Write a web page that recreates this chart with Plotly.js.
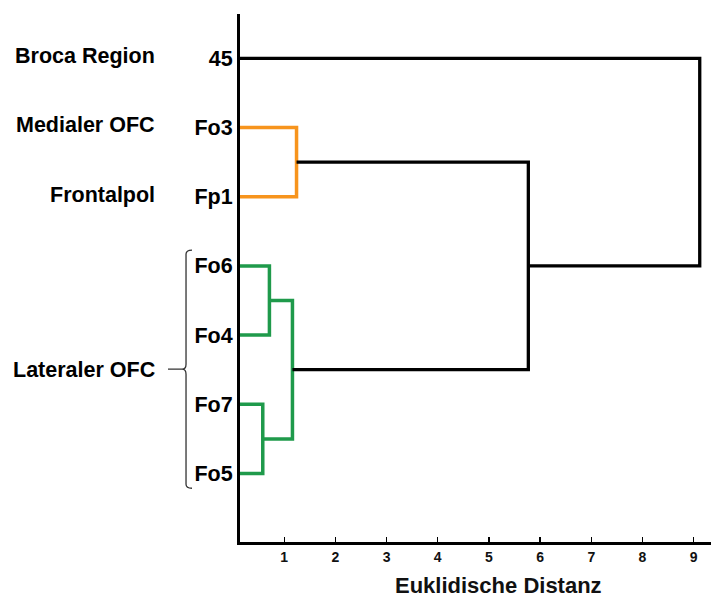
<!DOCTYPE html>
<html>
<head>
<meta charset="utf-8">
<script src="https://cdn.plot.ly/plotly-3.0.1.min.js"></script>
<style>html,body{margin:0;padding:0;background:#fff;}#chart{width:711px;height:599px;}</style>
</head>
<body>
<div id="chart"></div>
<script>
// Leaves (top to bottom) and their region group labels
const leaves = ['45', 'Fo3', 'Fp1', 'Fo6', 'Fo4', 'Fo7', 'Fo5'];
const groupLabels = ['Broca Region', 'Medialer OFC', 'Frontalpol', 'Lateraler OFC'];
const groupLeafSpan = [['45', '45'], ['Fo3', 'Fo3'], ['Fp1', 'Fp1'], ['Fo6', 'Fo5']];

// Linkage: [left child, right child, merge distance, cluster colour]
const mergeLeft   = ['Fo6', 'Fo7', 'n0', 'Fo3', 'n3', '45'];
const mergeRight  = ['Fo4', 'Fo5', 'n1', 'Fp1', 'n2', 'n4'];
const mergeHeight = [0.71, 0.58, 1.16, 1.24, 5.77, 9.12];
const mergeColor  = ['#1f9a4b', '#1f9a4b', '#1f9a4b', '#f7941d', '#000000', '#000000'];
const xTicks = [1, 2, 3, 4, 5, 6, 7, 8, 9];
const xTitle = 'Euklidische Distanz';

// Build dendrogram segments
const pos = {}, hgt = {};
leaves.forEach((l, i) => { pos[l] = i; hgt[l] = 0; });
const traces = [];
mergeLeft.forEach((a, k) => {
  const b = mergeRight[k], h = mergeHeight[k], c = mergeColor[k];
  const id = 'n' + k;
  pos[id] = (pos[a] + pos[b]) / 2; hgt[id] = h;
  traces.push({
    type: 'scatter', mode: 'lines', hoverinfo: 'skip', showlegend: false,
    x: [hgt[a], h, h, hgt[b]], y: [pos[a], pos[a], pos[b], pos[b]],
    line: {color: c, width: c === '#000000' ? 3.3 : 3.5, shape: 'linear'}
  });
});

const F = 'Liberation Sans, Arial, sans-serif';
const annotations = groupLabels.map((g, i) => ({
  text: g, xref: 'paper', yref: 'y', x: -0.1762,
  y: (pos[groupLeafSpan[i][0]] + pos[groupLeafSpan[i][1]]) / 2 - (i < 3 ? 0.03 : 0),
  xanchor: 'right', yanchor: 'middle', showarrow: false,
  font: {family: F, size: 21.5, color: '#000', weight: 'bold'}
}));
annotations.push({
  text: xTitle, xref: 'paper', yref: 'paper', x: 0.549, y: -0.082,
  xanchor: 'center', yanchor: 'middle', showarrow: false,
  font: {family: F, size: 22, color: '#111', weight: 'bold'}
});

const layout = {
  width: 711, height: 599,
  margin: {l: 240, r: 0, t: 14, b: 57},
  paper_bgcolor: '#fff', plot_bgcolor: '#fff',
  showlegend: false,
  xaxis: {
    range: [0.135, 9.34], showgrid: false, zeroline: false,
    showline: true, linewidth: 3, linecolor: '#000',
    tickvals: xTicks, ticks: 'inside', ticklen: 5, tickwidth: 1.2, tickcolor: '#000',
    tickfont: {family: F, size: 14, color: '#111', weight: 'bold'}
  },
  yaxis: {
    range: [6.99, -0.64], showgrid: false, zeroline: false,
    showline: true, linewidth: 3, linecolor: '#000',
    tickvals: leaves.map((l, i) => i), ticktext: leaves, ticks: '',
    tickfont: {family: F, size: 21.5, color: '#000', weight: 'bold'}
  },
  annotations: annotations,
  shapes: [{
    type: 'path', xref: 'paper', yref: 'y',
    path: 'M -0.1019,2.771 Q -0.1146,2.771 -0.1146,2.829 L -0.1146,4.42 Q -0.1146,4.492 -0.1231,4.492 L -0.1529,4.492 M -0.1231,4.492 Q -0.1146,4.492 -0.1146,4.565 L -0.1146,6.155 Q -0.1146,6.213 -0.1019,6.213',
    line: {color: '#333', width: 1.3}
  }]
};

Plotly.newPlot('chart', traces, layout, {displayModeBar: false, staticPlot: true});
</script>
</body>
</html>
